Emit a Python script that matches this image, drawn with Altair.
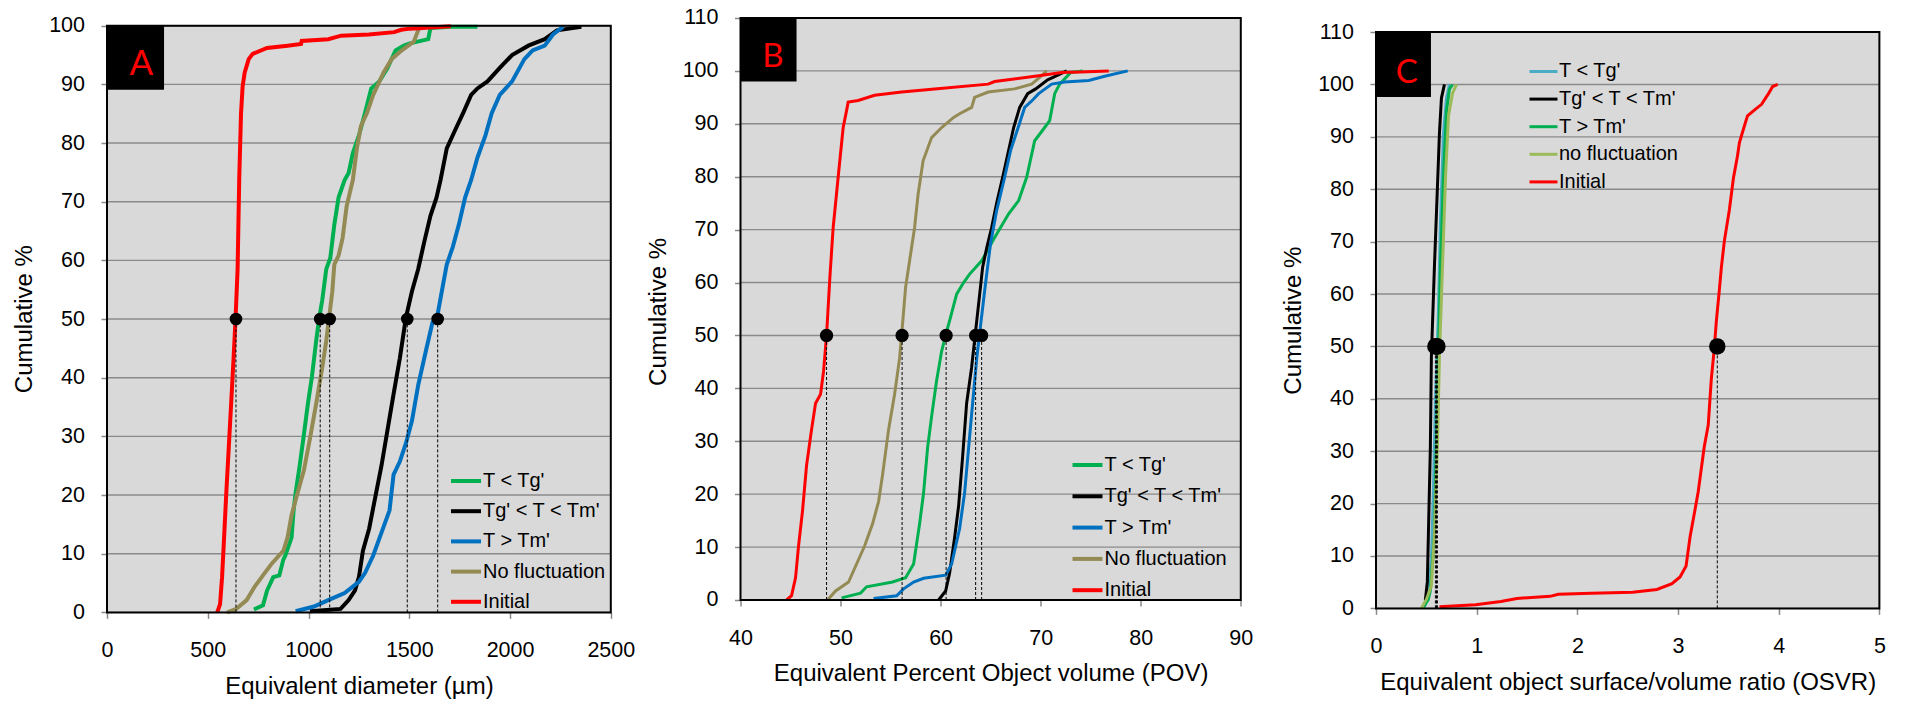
import altair as alt
import pandas as pd

FONT = "Liberation Sans"
GRID = "#8a8a8a"
BG = "#d9d9d9"

# ---------------- Panel A : Equivalent diameter ----------------
A_SERIES = ["T < Tg'", "Tg' < T < Tm'", "T > Tm'", "No fluctuation", "Initial"]
A_COLORS = ["#00b050", "#000000", "#0070c0", "#948a54", "#ff0000"]
A_GREEN_X = [729, 774, 794, 825, 855, 875, 885, 916, 926, 936, 956, 977, 997, 1017, 1038, 1053, 1068, 1088, 1108, 1128, 1149, 1179, 1199, 1220, 1250, 1280, 1311, 1351, 1392, 1432, 1473, 1503, 1594, 1605, 1706, 1838]
A_GREEN_Y = [0.5, 1.2, 3.7, 6.0, 6.3, 9.0, 9.7, 12.8, 17.4, 20.4, 25.0, 30.3, 35.6, 40.2, 46.3, 50.2, 53.2, 58.5, 60.4, 66.1, 70.7, 73.7, 74.9, 78.3, 81.3, 85.1, 89.3, 90.5, 92.8, 95.8, 96.6, 97.0, 97.7, 99.6, 99.8, 99.8]
A_BLACK_X = [1007, 1159, 1199, 1230, 1250, 1270, 1301, 1331, 1362, 1392, 1422, 1453, 1483, 1513, 1544, 1574, 1605, 1635, 1655, 1686, 1726, 1767, 1807, 1838, 1888, 1949, 2010, 2091, 2172, 2233, 2354]
A_BLACK_Y = [0.2, 0.6, 2.1, 3.7, 6.0, 10.5, 14.3, 19.6, 25.0, 31.1, 37.2, 43.3, 50.2, 54.7, 58.5, 63.1, 67.6, 70.7, 73.7, 79.1, 82.1, 85.1, 88.2, 89.3, 90.5, 92.8, 95.0, 96.6, 97.7, 99.2, 99.8]
A_BLUE_X = [936, 1027, 1098, 1179, 1250, 1280, 1321, 1362, 1402, 1422, 1453, 1483, 1513, 1544, 1584, 1615, 1641, 1665, 1686, 1716, 1746, 1777, 1807, 1838, 1878, 1909, 1949, 2010, 2071, 2112, 2172, 2213, 2263]
A_BLUE_Y = [0.2, 1.0, 2.1, 3.3, 5.2, 6.7, 9.7, 13.6, 17.4, 23.5, 25.7, 28.8, 32.6, 38.7, 44.8, 49.4, 50.9, 55.4, 59.3, 62.3, 66.1, 70.7, 73.7, 77.5, 81.3, 85.1, 88.2, 90.5, 94.3, 95.8, 96.6, 98.5, 99.8]
A_KHAKI_X = [596, 642, 693, 733, 774, 815, 875, 896, 916, 946, 977, 1007, 1038, 1068, 1088, 1102, 1118, 1128, 1149, 1169, 1189, 1220, 1240, 1260, 1290, 1321, 1372, 1412, 1463, 1523, 1544, 1554]
A_KHAKI_Y = [0.0, 0.6, 2.1, 4.4, 6.3, 8.2, 10.5, 12.8, 16.6, 20.4, 24.2, 29.6, 35.6, 41.7, 46.3, 50.2, 54.7, 59.3, 60.8, 63.8, 69.2, 73.7, 79.1, 82.9, 85.1, 88.2, 92.0, 94.3, 95.8, 97.3, 99.2, 99.8]
A_RED_X = [547, 561, 571, 581, 592, 604, 616, 628, 638, 648, 656, 665, 673, 683, 703, 723, 794, 896, 963, 966, 1098, 1162, 1300, 1425, 1460, 1503, 1706]
A_RED_Y = [0.0, 1.4, 6.0, 12.8, 20.4, 28.0, 35.6, 43.3, 50.2, 58.5, 73.7, 85.0, 89.7, 92.0, 94.3, 95.2, 96.2, 96.6, 96.9, 97.4, 97.7, 98.3, 98.5, 98.9, 99.3, 99.5, 99.9]
A_MEDIANS = [1058, 1490, 1641, 1105, 640]

# ---------------- Panel B : Percent object volume ----------------
B_SERIES = ["T < Tg'", "Tg' < T < Tm'", "T > Tm'", "No fluctuation", "Initial"]
B_COLORS = ["#00b050", "#000000", "#0070c0", "#948a54", "#ff0000"]
B_GREEN_X = [50.1, 52.0, 52.6, 55.2, 56.5, 57.3, 57.9, 58.3, 58.7, 59.1, 59.6, 60.1, 60.5, 61.0, 61.6, 62.3, 62.9, 64.1, 65.4, 66.8, 67.8, 68.6, 69.4, 70.4, 70.9, 71.4, 71.9, 73.0, 74.2]
B_GREEN_Y = [0.4, 1.3, 2.5, 3.4, 4.2, 6.8, 14.4, 20.3, 28.8, 34.7, 41.5, 47.0, 50.0, 53.5, 57.8, 60.0, 61.6, 64.1, 68.5, 73.0, 75.5, 79.9, 86.8, 89.3, 90.6, 95.7, 97.5, 99.7, 100]
B_BLACK_X = [59.8, 60.5, 60.9, 61.4, 61.8, 62.2, 62.6, 63.1, 63.45, 63.8, 64.2, 64.6, 65.1, 65.6, 66.2, 67.3, 67.9, 68.7, 69.5, 70.7, 71.5, 72.6]
B_BLACK_Y = [0.0, 1.7, 5.1, 11.8, 17.8, 27.1, 37.2, 44.0, 50.0, 56.0, 62.9, 66.5, 70.4, 75.0, 79.9, 89.3, 93.1, 95.7, 96.6, 98.3, 99.0, 100]
B_BLUE_X = [53.3, 55.6, 56.3, 57.3, 58.3, 60.5, 61.1, 61.9, 62.4, 62.8, 63.2, 63.6, 64.0, 64.5, 65.0, 65.6, 66.4, 67.0, 67.75, 68.4, 69.2, 69.8, 71.1, 72.4, 74.8, 76.4, 78.7]
B_BLUE_Y = [0.3, 0.8, 2.1, 3.4, 4.1, 4.7, 6.8, 13.5, 20.3, 28.8, 37.2, 45.5, 52.0, 60.0, 67.5, 73.6, 79.9, 85.0, 89.3, 93.1, 94.5, 95.7, 97.5, 97.9, 98.2, 99.0, 100]
B_KHAKI_X = [48.7, 49.5, 50.8, 51.6, 52.4, 53.2, 53.8, 54.2, 54.8, 55.4, 55.9, 56.1, 56.5, 57.4, 57.75, 58.25, 59.1, 60.1, 61.3, 61.9, 63.1, 63.4, 64.75, 67.4, 69.1, 70.1, 70.6]
B_KHAKI_Y = [0.0, 1.7, 3.4, 6.8, 10.2, 14.4, 18.6, 23.7, 32.2, 38.9, 45.7, 50.0, 59.1, 70.4, 76.7, 83.0, 87.4, 89.3, 91.2, 91.9, 93.1, 95.0, 96.0, 96.6, 97.5, 99.1, 100]
B_RED_X = [44.6, 45.1, 45.5, 45.8, 46.2, 46.6, 47.1, 47.5, 48.0, 48.3, 48.6, 48.93, 49.26, 49.76, 50.26, 50.6, 50.76, 51.76, 53.4, 56.1, 59.4, 64.75, 65.4, 69.8, 72.1, 74.0, 76.8]
B_RED_Y = [0.0, 0.8, 4.2, 10.2, 16.9, 25.4, 32.2, 37.2, 38.9, 43.2, 50.0, 60.9, 70.4, 79.9, 89.3, 92.5, 94.1, 94.4, 95.4, 96.0, 96.6, 97.5, 98.0, 99.1, 99.7, 99.8, 100]
B_MEDIANS = [60.55, 63.5, 64.1, 56.15, 48.6]

# ---------------- Panel C : surface/volume ratio ----------------
C_SERIES = ["T < Tg'", "Tg' < T < Tm'", "T > Tm'", "no fluctuation", "Initial"]
C_COLORS = ["#4bacc6", "#000000", "#00b050", "#9bbb59", "#ff0000"]
C_LBLUE_X = [0.48, 0.52, 0.55, 0.57, 0.59, 0.62, 0.64, 0.67, 0.70, 0.73]
C_LBLUE_Y = [0.2, 2.6, 9.4, 22.2, 39.3, 56.4, 73.5, 90.6, 97.4, 100]
C_BLACK_X = [0.49, 0.51, 0.52, 0.54, 0.55, 0.58, 0.61, 0.63, 0.65, 0.68]
C_BLACK_Y = [1.5, 5.1, 13.7, 30.8, 47.9, 65.0, 80.3, 90.6, 97.4, 100]
C_GREEN_X = [0.47, 0.52, 0.54, 0.58, 0.60, 0.62, 0.64, 0.67, 0.70, 0.73, 0.76]
C_GREEN_Y = [0.2, 1.7, 3.4, 13.7, 30.8, 47.9, 65.0, 82.1, 94.9, 99.1, 100]
C_LGREEN_X = [0.45, 0.50, 0.55, 0.58, 0.61, 0.63, 0.66, 0.69, 0.72, 0.76, 0.80]
C_LGREEN_Y = [0.0, 1.7, 4.3, 13.7, 30.8, 47.9, 65.0, 82.1, 94.0, 98.3, 100]
C_RED_X = [0.63, 0.99, 1.24, 1.40, 1.73, 1.81, 2.14, 2.55, 2.79, 2.94, 3.02, 3.08, 3.12, 3.16, 3.20, 3.26, 3.30, 3.33, 3.36, 3.38, 3.41, 3.43, 3.46, 3.51, 3.55, 3.59, 3.61, 3.65, 3.69, 3.77, 3.83, 3.90, 3.94, 3.99]
C_RED_Y = [0.3, 0.7, 1.3, 1.9, 2.3, 2.7, 2.9, 3.1, 3.6, 4.7, 6.0, 8.1, 13.7, 17.9, 22.2, 30.8, 35.0, 43.6, 49.6, 54.7, 60.7, 65.0, 70.1, 76.1, 82.1, 86.3, 88.9, 91.5, 94.0, 95.3, 96.2, 98.3, 99.6, 100]
C_MEDIANS = [0.60, 0.59, 0.60, 0.61, 3.39]

# panel letter boxes (data coordinates) and letters
A_BOX = dict(x=[0, 283], y=[89.1, 100], tx=170, ty=91.6, letter="A", size=35)
B_BOX = dict(x=[40, 45.6], y=[98, 110], tx=43.25, ty=100.8, letter="B", size=33)
C_BOX = dict(x=[0, 0.546], y=[97.6, 110], tx=0.305, ty=100.2, letter="C", size=33)


def panel(series, colors, xs, ys, medians, frame_x, view_x, xvals, frame_y, view_y,
          yvals, xtitle, w, h, lw, leg, box, dot, xoffset, title_y):
    X = dict(scale=alt.Scale(domain=view_x, nice=False, zero=False),
             axis=alt.Axis(values=xvals, title=xtitle, grid=False, labelFlush=False,
                           format="d", domain=False, tickColor=GRID, tickSize=6,
                           tickWidth=1.5, labelFontSize=21.5, labelFont=FONT,
                           labelColor="black", labelPadding=21.5, titleFontSize=24,
                           titleFont=FONT, titleFontWeight="normal", titleColor="black",
                           titlePadding=13, offset=xoffset,
                           titleX=w * (frame_x[1] - frame_x[0]) / (view_x[1] - view_x[0]) / 2))
    Y = dict(scale=alt.Scale(domain=view_y, nice=False, zero=False),
             axis=alt.Axis(values=yvals, title="Cumulative %", grid=False, domain=False,
                           tickColor=GRID, tickSize=6, tickWidth=1.5, labelFontSize=21.5,
                           labelFont=FONT, labelColor="black", labelPadding=16.5,
                           titleFontSize=24, titleFont=FONT, titleFontWeight="normal",
                           titleColor="black", titlePadding=12, titleY=title_y))
    legend = alt.Legend(title=None, orient="none", legendX=leg["x"], legendY=leg["y"],
                        symbolType="stroke", symbolSize=leg["sym"] ** 2,
                        symbolStrokeWidth=leg["sw"], labelFontSize=20, labelFont=FONT,
                        labelColor="black", labelOffset=0, rowPadding=leg["rp"],
                        padding=0, labelLimit=300)
    color = alt.Color("series:N", scale=alt.Scale(domain=series, range=colors), legend=legend)

    def xe(f="x"):
        return alt.X(f + ":Q", **X)

    def ye(f="y"):
        return alt.Y(f + ":Q", **Y)

    layers = []
    bg = pd.DataFrame({"x": [frame_x[0]], "x2": [frame_x[1]],
                       "y": [frame_y[0]], "y2": [frame_y[1]]})
    layers.append(alt.Chart(bg).mark_rect(fill=BG, strokeWidth=0).encode(
        x=xe(), x2="x2:Q", y=ye(), y2="y2:Q"))
    gdf = pd.DataFrame({"x": [frame_x[0]] * len(yvals), "x2": [frame_x[1]] * len(yvals),
                        "y": yvals})
    layers.append(alt.Chart(gdf).mark_rule(color=GRID, strokeWidth=1.4).encode(
        x=xe(), x2="x2:Q", y=ye()))
    for name, sx, sy in zip(series, xs, ys):
        df = pd.DataFrame({"x": sx, "y": sy, "i": list(range(len(sx)))})
        df["series"] = name
        layers.append(alt.Chart(df).mark_line(strokeWidth=lw).encode(
            x=xe(), y=ye(), order="i:Q", color=color))
    med = pd.DataFrame({"x": medians, "y": [0] * len(medians), "y2": [50] * len(medians)})
    layers.append(alt.Chart(med).mark_rule(color="black", strokeWidth=1,
                                           strokeDash=[3, 2]).encode(
        x=xe(), y=ye(), y2="y2:Q"))
    layers.append(alt.Chart(med).mark_point(filled=True, color="black", opacity=1,
                                            size=dot, shape="circle").encode(
        x=xe(), y=ye("y2")))
    layers.append(alt.Chart(bg).mark_rect(fillOpacity=0, stroke="black",
                                          strokeWidth=2).encode(
        x=xe(), x2="x2:Q", y=ye(), y2="y2:Q"))
    bdf = pd.DataFrame({"x": [box["x"][0]], "x2": [box["x"][1]],
                        "y": [box["y"][0]], "y2": [box["y"][1]]})
    layers.append(alt.Chart(bdf).mark_rect(color="black").encode(
        x=xe(), x2="x2:Q", y=ye(), y2="y2:Q"))
    tdf = pd.DataFrame({"x": [box["tx"]], "y": [box["ty"]], "t": [box["letter"]]})
    layers.append(alt.Chart(tdf).mark_text(color="red", font="Lato", fontSize=box["size"],
                                           align="center", baseline="alphabetic").encode(
        x=xe(), y=ye(), text="t:N"))
    return alt.layer(*layers).properties(width=w, height=h)


H = 594.4  # common view height (frames differ inside it)

pA = panel(A_SERIES, A_COLORS,
           [A_GREEN_X, A_BLACK_X, A_BLUE_X, A_KHAKI_X, A_RED_X],
           [A_GREEN_Y, A_BLACK_Y, A_BLUE_Y, A_KHAKI_Y, A_RED_Y],
           A_MEDIANS, [0, 2500], [0, 2500], [0, 500, 1000, 1500, 2000, 2500],
           [0, 100], [0, 101.312], list(range(0, 101, 10)), "Equivalent diameter (µm)",
           503.8, H, 4, dict(x=342, y=446, sym=30, sw=4, rp=3.2), A_BOX, 160, 0, 300.7)
pB = panel(B_SERIES, B_COLORS,
           [B_GREEN_X, B_BLACK_X, B_BLUE_X, B_KHAKI_X, B_RED_X],
           [B_GREEN_Y, B_BLACK_Y, B_BLUE_Y, B_KHAKI_Y, B_RED_Y],
           B_MEDIANS, [40, 90], [40, 90.55], [40, 50, 60, 70, 80, 90],
           [0, 110], [-2.344, 110], list(range(0, 111, 10)),
           "Equivalent Percent Object volume (POV)", 505.8, H, 3,
           dict(x=330, y=430, sym=30, sw=4, rp=4.3), B_BOX, 177, -12.4, 293.4)
pC = panel(C_SERIES, C_COLORS,
           [C_LBLUE_X, C_BLACK_X, C_GREEN_X, C_LGREEN_X, C_RED_X],
           [C_LBLUE_Y, C_BLACK_Y, C_GREEN_Y, C_LGREEN_Y, C_RED_Y],
           C_MEDIANS, [0, 5], [0, 5], [0, 1, 2, 3, 4, 5],
           [0, 110], [-0.766, 112.681], list(range(0, 111, 10)),
           "Equivalent object surface/volume ratio (OSVR)", 503.4, H, 3,
           dict(x=152, y=38, sym=28, sw=3, rp=1.6), C_BOX, 270, -4, 302.2)

chart = alt.hconcat(pA, pB, pC, spacing=129.5, bounds="flush").resolve_scale(
    color="independent").resolve_legend(color="independent").properties(
    padding={"left": 12, "top": 6, "right": 5, "bottom": 0}, background="white"
).configure_view(stroke="transparent", fill="transparent")

chart.save("out.html", embed_options={"renderer": "svg", "actions": False})
